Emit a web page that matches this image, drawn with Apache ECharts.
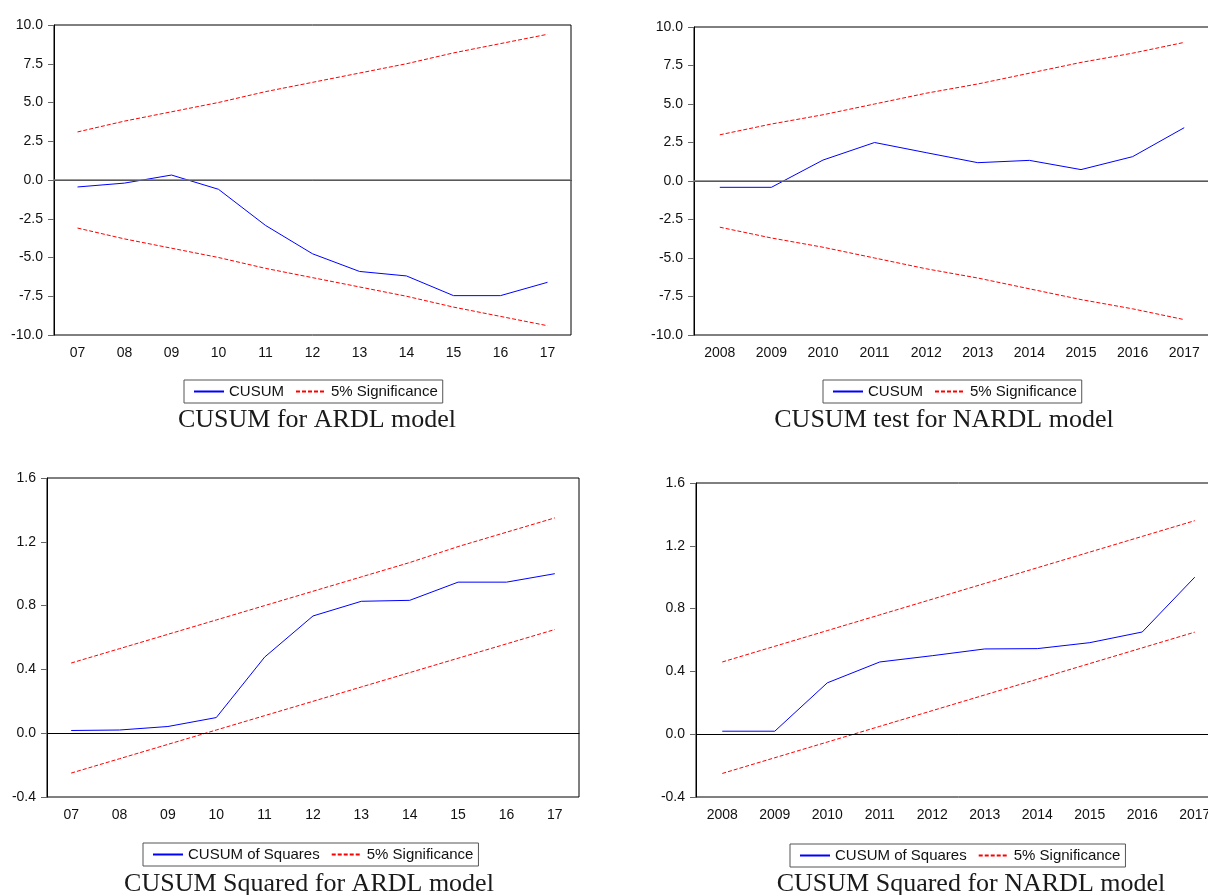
<!DOCTYPE html>
<html>
<head>
<meta charset="utf-8">
<script src="https://cdn.jsdelivr.net/npm/echarts@6/dist/echarts.min.js"></script>
<style>
  html, body { margin: 0; padding: 0; background: #fff; overflow: hidden; }
  /* 右侧两图的绘图区超出画面右边，所以画布比窗口宽一点 */
  #chart { width: 1240px; height: 895px; }
</style>
</head>
<body>
<div id="chart"></div>
<script>
// x 轴类别
const ardlYears = ['07', '08', '09', '10', '11', '12', '13', '14', '15', '16', '17'];
const nardlYears = ['2008', '2009', '2010', '2011', '2012', '2013', '2014', '2015', '2016', '2017'];

// CUSUM (ARDL)
const ardlCusum = [-0.45, -0.2, 0.32, -0.6, -2.93, -4.76, -5.9, -6.19, -7.46, -7.46, -6.6];
const ardlCusumUpper = [3.1, 3.8, 4.4, 5.0, 5.7, 6.3, 6.9, 7.5, 8.2, 8.8, 9.4];
const ardlCusumLower = [-3.1, -3.8, -4.4, -5.0, -5.7, -6.3, -6.9, -7.5, -8.2, -8.8, -9.4];

// CUSUM (NARDL)
const nardlCusum = [-0.41, -0.41, 1.36, 2.5, 1.84, 1.19, 1.34, 0.74, 1.58, 3.46];
const nardlCusumUpper = [3.0, 3.7, 4.3, 5.0, 5.7, 6.3, 7.0, 7.7, 8.3, 9.0];
const nardlCusumLower = [-3.0, -3.7, -4.3, -5.0, -5.7, -6.3, -7.0, -7.7, -8.3, -9.0];

// CUSUM of Squares (ARDL)
const ardlSq = [0.017, 0.02, 0.042, 0.098, 0.477, 0.735, 0.827, 0.833, 0.947, 0.947, 1.0];
const ardlSqUpper = [0.44, 0.53, 0.62, 0.71, 0.80, 0.89, 0.98, 1.07, 1.17, 1.26, 1.35];
const ardlSqLower = [-0.25, -0.16, -0.07, 0.02, 0.11, 0.20, 0.29, 0.38, 0.47, 0.56, 0.65];

// CUSUM of Squares (NARDL)
const nardlSq = [0.019, 0.019, 0.327, 0.46, 0.50, 0.543, 0.545, 0.583, 0.651, 1.0];
const nardlSqUpper = [0.46, 0.56, 0.66, 0.76, 0.86, 0.96, 1.06, 1.16, 1.26, 1.36];
const nardlSqLower = [-0.25, -0.15, -0.05, 0.05, 0.15, 0.25, 0.35, 0.45, 0.55, 0.65];

const font = '"Liberation Sans", Arial, sans-serif';

function grid(left, top, width, height) {
  return { left: left, top: top, width: width, height: height, show: true, backgroundColor: '#fff', borderColor: '#000', borderWidth: 1 };
}

function xAxis(idx, data) {
  return {
    gridIndex: idx, type: 'category', data: data, boundaryGap: true,
    axisLine: { lineStyle: { color: '#000', width: 1 } },
    axisTick: { length: 6, lineStyle: { color: '#000' } },
    axisLabel: { color: '#111', fontSize: 14, fontFamily: font, margin: 11 },
    splitLine: { show: false }
  };
}

function yAxis(idx, min, max, interval) {
  return {
    gridIndex: idx, type: 'value', min: min, max: max, interval: interval,
    axisLine: { show: true, lineStyle: { color: '#000', width: 1 } },
    axisTick: { show: true, length: 6, lineStyle: { color: '#666' } },
    axisLabel: { color: '#111', fontSize: 14, fontFamily: font, margin: 11, formatter: v => v.toFixed(1) },
    splitLine: { show: false }
  };
}

function mainLine(name, idx, data, zeroColor, zeroWidth) {
  return {
    name: name, type: 'line', xAxisIndex: idx, yAxisIndex: idx, data: data,
    symbol: 'none', smooth: false,
    lineStyle: { color: '#0000ff', width: 1 }, itemStyle: { color: '#0000ff' },
    markLine: {
      silent: true, symbol: 'none', label: { show: false },
      lineStyle: { color: zeroColor, width: zeroWidth, type: 'solid' },
      data: [{ yAxis: 0 }]
    },
    z: 3
  };
}

function bandLine(idx, data) {
  return {
    name: '5% Significance', type: 'line', xAxisIndex: idx, yAxisIndex: idx, data: data,
    symbol: 'none',
    lineStyle: { color: '#ff0000', width: 1, type: [4, 2] }, itemStyle: { color: '#ff0000' },
    z: 2
  };
}

function legend(left, top, names) {
  return {
    left: left, top: top, orient: 'horizontal', data: names,
    itemWidth: 30, itemHeight: 13, itemGap: 11,
    padding: [4, 5, 4, 9],
    borderColor: '#555', borderWidth: 1,
    // 图例只显示线，不显示圆点
    itemStyle: { opacity: 0 },
    textStyle: { color: '#111', fontSize: 15, fontFamily: font }
  };
}

function caption(x, y, text) {
  return {
    type: 'text', x: x, y: y, silent: true,
    style: { text: text, fill: '#1a1a1a', fontSize: 26, fontFamily: '"Liberation Serif", "Times New Roman", serif', align: 'center', verticalAlign: 'middle' }
  };
}

const option = {
  animation: false,
  backgroundColor: '#fff',
  grid: [
    grid(54, 25, 517, 310),
    grid(694, 27, 516, 308),
    grid(47, 478, 532, 319),
    grid(696, 483, 525, 314)
  ],
  xAxis: [
    xAxis(0, ardlYears),
    xAxis(1, nardlYears),
    xAxis(2, ardlYears),
    xAxis(3, nardlYears)
  ],
  yAxis: [
    yAxis(0, -10, 10, 2.5),
    yAxis(1, -10, 10, 2.5),
    yAxis(2, -0.4, 1.6, 0.4),
    yAxis(3, -0.4, 1.6, 0.4)
  ],
  legend: [
    legend(184, 380, ['CUSUM', '5% Significance']),
    legend(823, 380, ['CUSUM', '5% Significance']),
    legend(143, 843, ['CUSUM of Squares', '5% Significance']),
    legend(790, 844, ['CUSUM of Squares', '5% Significance'])
  ],
  series: [
    mainLine('CUSUM', 0, ardlCusum, '#777', 1.5),
    bandLine(0, ardlCusumUpper),
    bandLine(0, ardlCusumLower),
    mainLine('CUSUM', 1, nardlCusum, '#777', 1.5),
    bandLine(1, nardlCusumUpper),
    bandLine(1, nardlCusumLower),
    mainLine('CUSUM of Squares', 2, ardlSq, '#000', 1),
    bandLine(2, ardlSqUpper),
    bandLine(2, ardlSqLower),
    mainLine('CUSUM of Squares', 3, nardlSq, '#000', 1),
    bandLine(3, nardlSqUpper),
    bandLine(3, nardlSqLower)
  ],
  graphic: [
    caption(317, 420, 'CUSUM for ARDL model'),
    caption(944, 420, 'CUSUM test for NARDL model'),
    caption(309, 884, 'CUSUM Squared for ARDL model'),
    caption(971, 884, 'CUSUM Squared for NARDL model')
  ]
};

const chart = echarts.init(document.getElementById('chart'));
chart.setOption(option);
</script>
</body>
</html>
